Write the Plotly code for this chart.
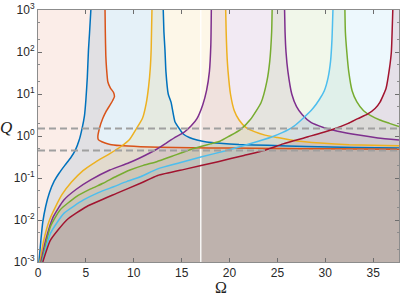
import plotly.graph_objects as go

OMEGA_MAX = 37.699  # 12*pi
Q_MIN, Q_MAX = 1e-3, 1e3

# ---- curve data (Omega, Q) ----
blue_rise_x = [0.1, 0.3, 0.5, 0.8, 1.2, 1.7, 2.2, 2.8, 3.4, 3.9, 4.3, 4.6, 4.85, 5.0, 5.15, 5.27, 5.38, 5.52]
blue_rise_q = [0.001, 0.0033, 0.009, 0.021, 0.045, 0.085, 0.13, 0.2, 0.3, 0.46, 0.8, 1.5, 3.0, 7.2, 25, 111, 280, 1000]
blue_desc_x = [13.08, 13.15, 13.26, 13.36, 13.6, 13.9, 14.3, 14.8, 15.2, 15.8, 16.6, 17.6, 19.0, 21.0, 24.0, 28.0, 33.0, 37.699]
blue_desc_q = [1000, 300, 111, 34, 10, 6.3, 2.19, 1.45, 1.1, 0.92, 0.8, 0.72, 0.67, 0.63, 0.6, 0.56, 0.535, 0.52]

orange_x = [7.0, 7.03, 7.08, 7.16, 7.29, 7.55, 7.88, 7.98, 7.8, 7.53, 7.1, 6.77, 6.42, 6.25, 6.3, 6.67, 7.53, 8.57, 10.7, 12.7, 16.0, 20.0, 25.0, 30.0, 37.699]
orange_q = [1000, 300, 84, 40, 19.6, 14, 11, 8.6, 7, 5.5, 3.8, 2.64, 1.53, 0.96, 0.82, 0.73, 0.63, 0.59, 0.555, 0.537, 0.525, 0.515, 0.505, 0.495, 0.485]

yellow_rise_x = [0.2, 0.6, 1.2, 1.8, 2.5, 3.5, 4.7, 6.0, 7.5, 8.7, 9.6, 10.2, 10.9, 11.3, 11.55, 11.72, 11.82, 11.9]
yellow_rise_q = [0.001, 0.0033, 0.01, 0.02, 0.04, 0.08, 0.15, 0.24, 0.38, 0.57, 0.85, 1.4, 2.6, 6.0, 15, 40, 120, 1000]
yellow_desc_x = [19.6, 19.65, 19.72, 19.85, 20.1, 20.5, 21.0, 21.7, 22.6, 23.7, 25.0, 27.0, 29.5, 32.5, 35.0, 37.699]
yellow_desc_q = [1000, 300, 100, 34, 10, 4, 2.4, 1.6, 1.27, 1.05, 0.92, 0.76, 0.68, 0.62, 0.6, 0.585]

purple_rise_x = [0.3, 0.8, 1.6, 2.7, 4.0, 5.5, 7.5, 9.5, 11.0, 12.3, 13.4, 14.4, 15.3, 16.0, 16.6, 17.2, 17.6, 17.9, 18.05, 18.1]
purple_rise_q = [0.001, 0.0033, 0.012, 0.03, 0.054, 0.09, 0.155, 0.23, 0.33, 0.47, 0.68, 0.95, 1.25, 1.75, 2.6, 5.5, 12, 34, 150, 1000]
purple_desc_x = [25.75, 25.8, 25.9, 26.1, 26.5, 27.0, 27.6, 28.5, 29.8, 31.3, 33.5, 35.5, 37.699]
purple_desc_q = [1000, 300, 100, 34, 10, 5, 3.2, 2.1, 1.6, 1.3, 1.05, 0.9, 0.8]

green_rise_x = [0.4, 1.3, 2.3, 4.0, 5.5, 6.8, 8.2, 9.6, 11.0, 12.4, 14.0, 15.5, 17.0, 18.0, 19.0, 20.0, 21.1, 22.2, 23.3, 23.9, 24.2, 24.4, 24.45]
green_rise_q = [0.001, 0.007, 0.0174, 0.036, 0.055, 0.075, 0.11, 0.155, 0.2, 0.245, 0.33, 0.44, 0.56, 0.65, 0.75, 1.0, 1.4, 2.5, 6.3, 20, 60, 300, 1000]
green_desc_x = [32.05, 32.1, 32.25, 32.45, 32.8, 33.3, 34.0, 34.8, 35.7, 36.7, 37.699]
green_desc_q = [1000, 300, 100, 34, 12, 6.5, 4.0, 3.0, 2.4, 2.0, 1.67]

cyan_rise_x = [0.45, 1.3, 2.7, 4.75, 6.3, 7.9, 9.3, 10.7, 12.5, 14.8, 17.1, 19.5, 22.3, 24.4, 25.5, 26.7, 27.8, 28.7, 29.4, 29.9, 30.3, 30.55, 30.7, 30.8]
cyan_rise_q = [0.001, 0.0048, 0.0144, 0.03, 0.045, 0.062, 0.083, 0.107, 0.165, 0.23, 0.32, 0.44, 0.67, 0.95, 1.2, 1.7, 2.8, 4.5, 7.5, 12, 25, 60, 200, 1000]

red_rise_x = [0.5, 1.3, 3.0, 5.1, 8.2, 10.7, 12.5, 15.5, 18.8, 21.5, 23.7, 25.6, 28.2, 30.6, 32.4, 33.4, 34.4, 35.2, 35.7, 36.35, 36.7, 36.9, 37.05]
red_rise_q = [0.001, 0.0033, 0.01, 0.021, 0.043, 0.075, 0.115, 0.165, 0.245, 0.345, 0.46, 0.65, 0.96, 1.39, 2.0, 2.6, 3.3, 4.5, 6.3, 13.7, 40, 100, 1000]

dash_levels = [1.5, 0.45]
white_line_omega = 17.0

x_ticks = [0, 5, 10, 15, 20, 25, 30, 35]
y_ticks = [1e-3, 1e-2, 1e-1, 1e0, 1e1, 1e2, 1e3]
y_ticktext = ["10<sup>-3</sup>", "10<sup>-2</sup>", "10<sup>-1</sup>", "10<sup>0</sup>",
              "10<sup>1</sup>", "10<sup>2</sup>", "10<sup>3</sup>"]

C = {
    "blue": (0, 114, 189),
    "orange": (217, 83, 25),
    "yellow": (237, 177, 32),
    "purple": (126, 47, 142),
    "green": (119, 172, 48),
    "cyan": (77, 190, 238),
    "red": (162, 20, 47),
}
ALPHA = 0.1


def rgba(c, a):
    return f"rgba({c[0]},{c[1]},{c[2]},{a})"


def rgb(c):
    return f"rgb({c[0]},{c[1]},{c[2]})"


fig = go.Figure()


def tongue(rx, rq, dx=None, dq=None):
    xs = list(rx)
    qs = list(rq)
    if dx is None:
        xs += [OMEGA_MAX, OMEGA_MAX]
        qs += [Q_MAX, Q_MIN]
    else:
        xs += list(dx) + [OMEGA_MAX]
        qs += list(dq) + [Q_MIN]
    xs += [rx[0]]
    qs += [Q_MIN]
    return xs, qs


fills = [
    ("orange", [0, 0] + orange_x + [OMEGA_MAX, 0], [Q_MIN, Q_MAX] + orange_q + [Q_MIN, Q_MIN]),
    ("blue",) + tongue(blue_rise_x, blue_rise_q, blue_desc_x, blue_desc_q),
    ("yellow",) + tongue(yellow_rise_x, yellow_rise_q, yellow_desc_x, yellow_desc_q),
    ("purple",) + tongue(purple_rise_x, purple_rise_q, purple_desc_x, purple_desc_q),
    ("green",) + tongue(green_rise_x, green_rise_q, green_desc_x, green_desc_q),
    ("cyan",) + tongue(cyan_rise_x, cyan_rise_q),
    ("red",) + tongue(red_rise_x, red_rise_q),
]
for name, xs, qs in fills:
    fig.add_trace(go.Scatter(x=xs, y=qs, mode="lines", fill="toself",
                             fillcolor=rgba(C[name], ALPHA), line=dict(width=0),
                             hoverinfo="skip", showlegend=False))

fig.add_trace(go.Scatter(x=[white_line_omega, white_line_omega], y=[Q_MIN, Q_MAX], mode="lines",
                         line=dict(color="white", width=1.3), hoverinfo="skip", showlegend=False))

curves = [
    ("blue", blue_rise_x, blue_rise_q), ("blue", blue_desc_x, blue_desc_q),
    ("orange", orange_x, orange_q),
    ("yellow", yellow_rise_x, yellow_rise_q), ("yellow", yellow_desc_x, yellow_desc_q),
    ("purple", purple_rise_x, purple_rise_q), ("purple", purple_desc_x, purple_desc_q),
    ("green", green_rise_x, green_rise_q), ("green", green_desc_x, green_desc_q),
    ("cyan", cyan_rise_x, cyan_rise_q),
    ("red", red_rise_x, red_rise_q),
]
for name, xs, qs in curves:
    fig.add_trace(go.Scatter(x=xs, y=qs, mode="lines",
                             line=dict(color=rgb(C[name]), width=1.5, shape="spline", smoothing=0.5),
                             hoverinfo="skip", showlegend=False))

for lv in dash_levels:
    fig.add_trace(go.Scatter(x=[0, OMEGA_MAX], y=[lv, lv], mode="lines",
                             line=dict(color="rgb(160,160,160)", width=2, dash="7px,4px"),
                             hoverinfo="skip", showlegend=False))

axis_common = dict(showline=True, linecolor="rgb(140,140,140)", linewidth=1, mirror="ticks",
                   ticks="inside", tickcolor="rgb(110,110,110)", ticklen=4, showgrid=False,
                   zeroline=False, automargin=False,
                   tickfont=dict(family="Liberation Sans, Arial", size=12, color="rgb(40,40,40)"))

fig.update_layout(
    width=411, height=295,
    margin=dict(l=38, r=12, t=10, b=33),
    paper_bgcolor="white", plot_bgcolor="white",
    xaxis=dict(range=[0, OMEGA_MAX], tickvals=x_ticks, **axis_common),
    yaxis=dict(type="log", range=[-3, 3], tickvals=y_ticks, ticktext=y_ticktext,
               minor=dict(ticks="inside", ticklen=2, tickcolor="rgb(140,140,140)", showgrid=False),
               **axis_common),
    annotations=[
        dict(text="<i>Q</i>", xref="paper", yref="paper", x=-0.088, y=0.535, xanchor="center", yanchor="middle",
             showarrow=False, font=dict(family="Liberation Serif, Times New Roman", size=17, color="rgb(30,30,30)")),
        dict(text="Ω", xref="paper", yref="paper", x=0.508, y=-0.1, xanchor="center", yanchor="middle",
             showarrow=False, font=dict(family="Liberation Serif, Times New Roman", size=16, color="rgb(30,30,30)")),
    ],
)

fig.write_html("out.html", config={"displayModeBar": False, "staticPlot": True},
               post_script="document.body.style.margin='0';document.body.style.overflow='hidden';")
